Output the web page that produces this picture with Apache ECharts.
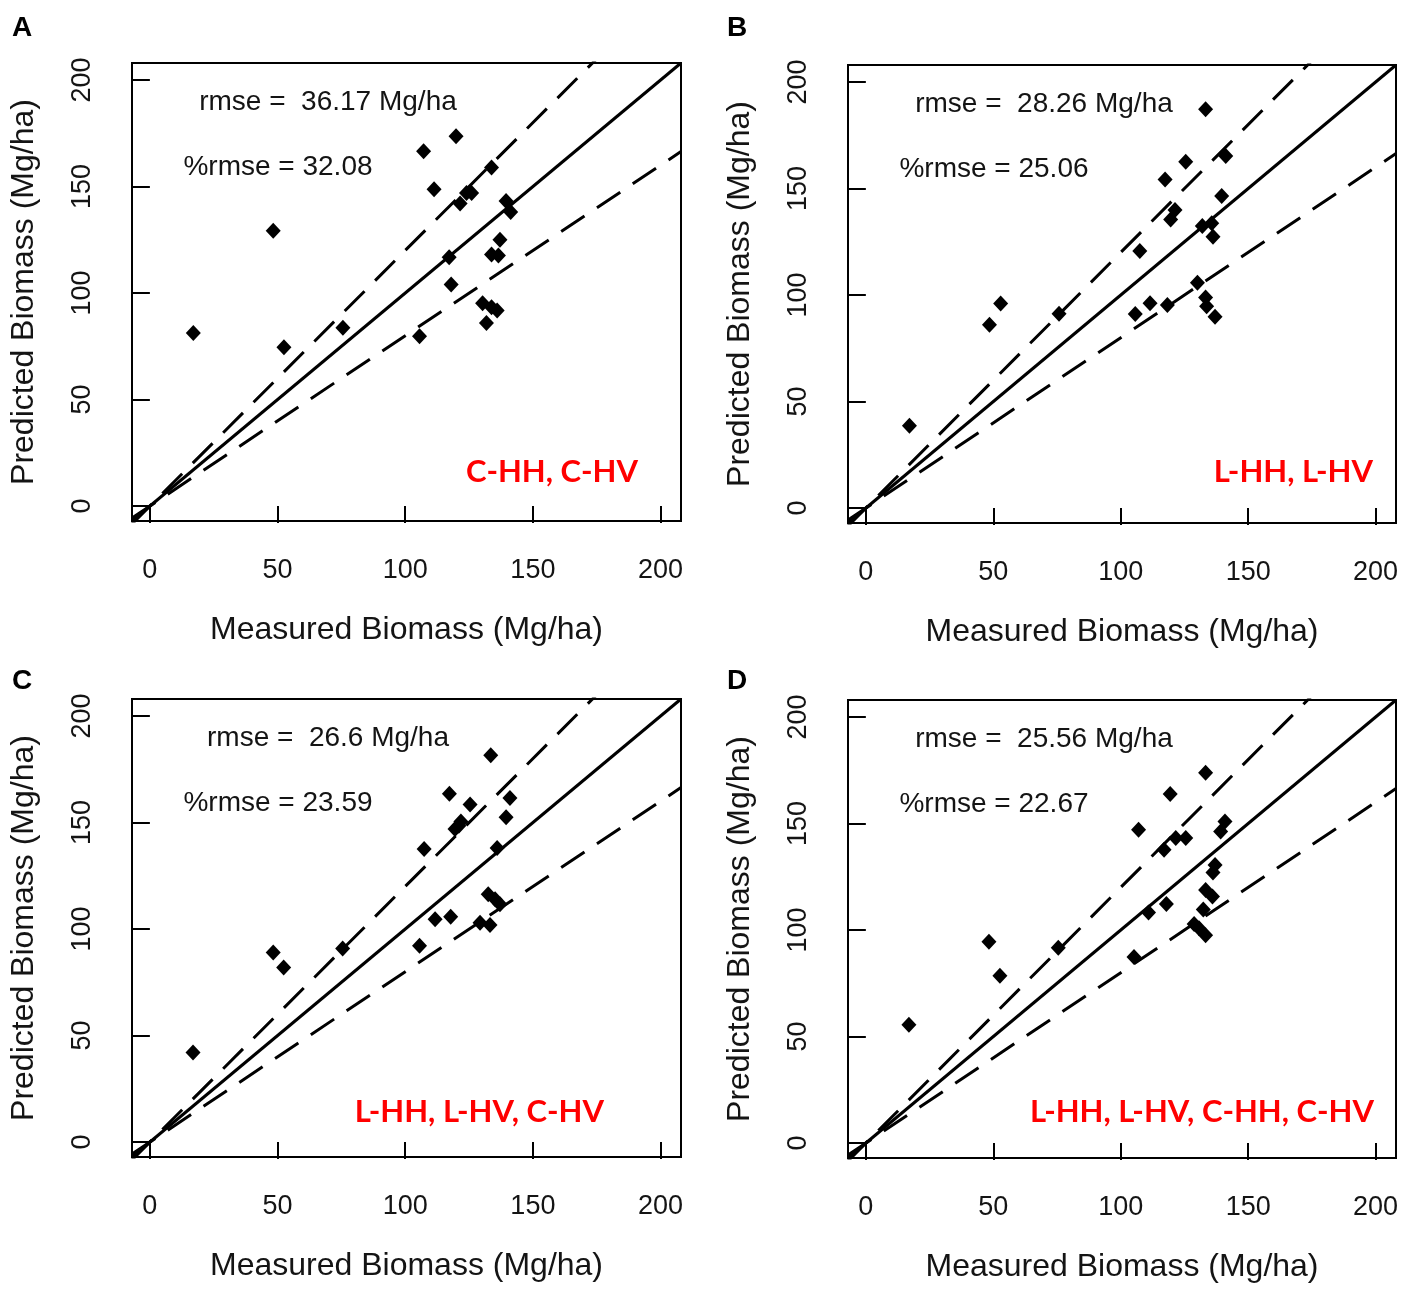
<!DOCTYPE html>
<html>
<head>
<meta charset="utf-8">
<script src="https://cdn.jsdelivr.net/npm/echarts@6/dist/echarts.min.js"></script>
<style>
html,body{margin:0;padding:0;background:#fff;}
#chart{width:1417px;height:1310px;}
</style>
</head>
<body>
<div id="chart"></div>
<script>
// ---- data ----
const tickValues = [0, 50, 100, 150, 200];
const axisMin = -7;
const axisMax = 208;
const refLineSlopes = [1, 1.2, 0.8];   // 1:1 line, +20 %, -20 %

const measuredA  = [17, 48.3, 52.5, 75.6, 105.6, 107.2, 111.3, 119.9, 117.2, 118, 121.5, 124, 126, 133.8, 139.5, 141.3, 137.1, 133.8, 136.5, 130.3, 133.8, 136, 131.8];
const predictedA = [81.3, 129.2, 74.6, 83.7, 79.7, 166.6, 148.7, 173.6, 116.8, 104, 142, 147, 147, 158.9, 143.2, 138, 125, 118.1, 117.6, 95.2, 93.3, 91.8, 86];

const measuredB  = [17.1, 48.5, 52.9, 75.8, 105.7, 107.5, 111.5, 117.4, 118.3, 119.6, 121.3, 125.5, 130.1, 132, 133.3, 133.3, 133.7, 135.7, 136.2, 137, 139.6, 141.2];
const predictedB = [38.7, 86.1, 96, 91.2, 91.1, 120.7, 96.1, 154.3, 95.3, 135.5, 139.9, 162.6, 105.8, 132.4, 187.2, 98.9, 94.8, 133.7, 127.4, 89.8, 146.5, 165.3];

const measuredC  = [16.9, 48.3, 52.4, 75.5, 105.6, 107.4, 111.7, 117.3, 117.8, 119.5, 121, 121.8, 125.4, 129.3, 132.5, 133.2, 133.5, 135.2, 136, 137.1, 139.5, 141];
const predictedC = [42.1, 89, 82, 90.9, 92.2, 137.6, 104.6, 163.5, 105.8, 147, 148.5, 150.5, 158.5, 103, 116.4, 101.9, 181.6, 114, 138, 111.7, 152.5, 161.5];

const measuredD  = [16.9, 48.3, 52.6, 75.5, 105.2, 107, 110.9, 117, 117.9, 119.4, 121.6, 125.5, 128.8, 130.7, 132.4, 133.3, 133.3, 133.3, 136, 136.2, 137, 139.2, 140.9];
const predictedD = [55.6, 94.5, 78.5, 91.7, 87.4, 147.1, 108.3, 137.7, 112.2, 163.9, 143.2, 143.2, 102.8, 100.8, 109.7, 173.8, 118.8, 97.6, 115.7, 127, 130.6, 146.3, 151];

const panelLetters = ['A', 'B', 'C', 'D'];
const rmseTexts    = ['rmse =  36.17 Mg/ha', 'rmse =  28.26 Mg/ha', 'rmse =  26.6 Mg/ha', 'rmse =  25.56 Mg/ha'];
const pctRmseTexts = ['%rmse = 32.08', '%rmse = 25.06', '%rmse = 23.59', '%rmse = 22.67'];
const bandTexts    = ['C-HH, C-HV', 'L-HH, L-HV', 'L-HH, L-HV, C-HV', 'L-HH, L-HV, C-HH, C-HV'];
const xTitle = 'Measured Biomass (Mg/ha)';
const yTitle = 'Predicted Biomass (Mg/ha)';

// ---- layout ----
const panels = [
  {measured: measuredA, predicted: predictedA, grid: {left: 132, top: 63, width: 549, height: 458}, bandRight: 638, bandY: 472},
  {measured: measuredB, predicted: predictedB, grid: {left: 848, top: 65, width: 548, height: 458}, bandRight: 1373, bandY: 472},
  {measured: measuredC, predicted: predictedC, grid: {left: 132, top: 699, width: 549, height: 458}, bandRight: 604, bandY: 1112},
  {measured: measuredD, predicted: predictedD, grid: {left: 848, top: 700, width: 548, height: 458}, bandRight: 1374, bandY: 1112}
];

const FONT = '"Liberation Sans", Arial, sans-serif';
const TXT = '#141414';

const grids = [], xAxes = [], yAxes = [], series = [], graphics = [];

panels.forEach((p, i) => {
  grids.push(Object.assign({show: true, borderColor: '#000', borderWidth: 2, backgroundColor: 'transparent', containLabel: false}, p.grid));
  const common = {
    gridIndex: i, type: 'value', min: axisMin, max: axisMax,
    axisLine: {show: false},
    axisTick: {show: true, inside: false, length: 17, lineStyle: {color: '#000', width: 2}, customValues: tickValues},
    splitLine: {show: false},
    nameLocation: 'middle',
    nameTextStyle: {fontSize: 32, color: TXT, fontFamily: FONT}
  };
  xAxes.push(Object.assign({}, common, {
    axisLabel: {customValues: tickValues, margin: 36, fontSize: 27, color: TXT, fontFamily: FONT},
    name: xTitle, nameGap: 93
  }));
  yAxes.push(Object.assign({}, common, {
    axisLabel: {customValues: tickValues, rotate: 90, margin: 36, fontSize: 27, color: TXT, fontFamily: FONT},
    name: yTitle, nameGap: 92, nameRotate: 90
  }));

  // reference lines
  refLineSlopes.forEach((s, k) => {
    series.push({
      type: 'line', xAxisIndex: i, yAxisIndex: i,
      data: [[axisMin, axisMin * s], [axisMax, axisMax * s]],
      showSymbol: false, symbol: 'none', silent: true, clip: true,
      lineStyle: {color: '#000', width: 3, type: k === 0 ? 'solid' : [28, 15]},
      z: 2
    });
  });

  // points
  series.push({
    type: 'scatter', xAxisIndex: i, yAxisIndex: i,
    data: p.measured.map((m, j) => [m, p.predicted[j]]),
    symbol: 'diamond', symbolSize: [15, 16],
    itemStyle: {color: '#000', opacity: 1},
    z: 3
  });

  // annotation texts
  const g = p.grid;
  const cx = g.left - 132;
  const cy = g.top - 63;
  graphics.push({type: 'text', x: (i % 2 === 0 ? 22 : 737), y: (i < 2 ? 28 : 681),
    style: {text: panelLetters[i], font: 'bold 28px ' + FONT, fill: '#000', textAlign: 'center', textVerticalAlign: 'middle'}});
  graphics.push({type: 'text', x: 328 + cx, y: 102 + cy,
    style: {text: rmseTexts[i], font: '28px ' + FONT, fill: TXT, textAlign: 'center', textVerticalAlign: 'middle'}});
  graphics.push({type: 'text', x: 278 + cx, y: 167 + cy,
    style: {text: pctRmseTexts[i], font: '28px ' + FONT, fill: TXT, textAlign: 'center', textVerticalAlign: 'middle'}});
  graphics.push({type: 'text', x: p.bandRight, y: p.bandY,
    style: {text: bandTexts[i], font: 'bold 31px Lato, "Open Sans", sans-serif', fill: '#ff0000', textAlign: 'right', textVerticalAlign: 'middle'}});
});

const chart = echarts.init(document.getElementById('chart'), null, {renderer: 'canvas'});
chart.setOption({
  animation: false,
  backgroundColor: '#fff',
  grid: grids,
  xAxis: xAxes,
  yAxis: yAxes,
  series: series,
  graphic: graphics
});
</script>
</body>
</html>
